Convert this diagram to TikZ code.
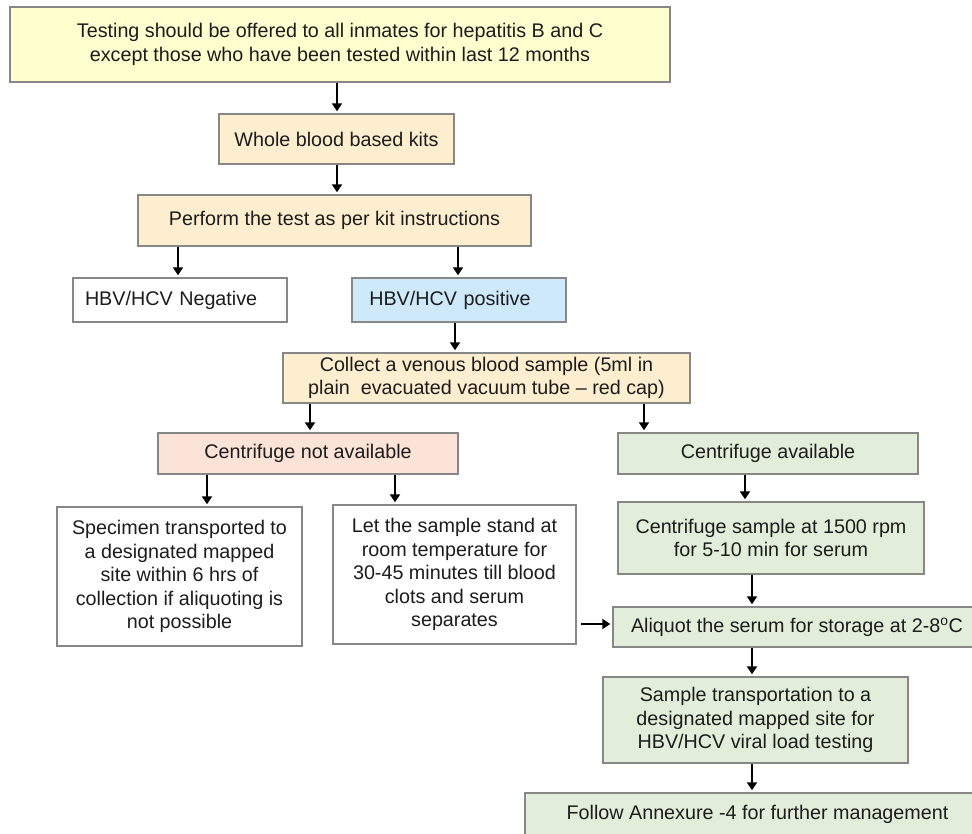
\documentclass[tikz,border=0pt]{standalone}
\usepackage{fontspec}
\setmainfont{Liberation Sans}
\usetikzlibrary{arrows.meta}

\definecolor{edgegray}{RGB}{135,135,135}
\definecolor{inkdark}{RGB}{28,28,28}
\definecolor{fillyellow}{RGB}{255,254,206}
\definecolor{fillpeach}{RGB}{253,238,207}
\definecolor{fillblue}{RGB}{206,233,250}
\definecolor{fillsalmon}{RGB}{251,227,215}
\definecolor{fillgreen}{RGB}{226,238,218}

\newcommand{\pxu}{0.75pt}

\tikzset{
  box/.style={draw=edgegray, line width=1.1pt, fill=#1, text=inkdark,
    rectangle, align=center, inner sep=0pt,
    font=\fontsize{14.8pt}{17.6pt}\selectfont},
  box/.default=white,
  arr/.style={line width=1.9pt, draw=black,
    -{Triangle[length=6pt,width=7.5pt]}, shorten >=1.5pt},
}

\begin{document}
\begin{tikzpicture}[x=0.75pt, y=-0.75pt]
  \clip (0,0) rectangle (972,834);
  \fill[white] (0,0) rectangle (972,834);

  % boxes
  \node[box=fillyellow, minimum width={660*\pxu}, minimum height={75*\pxu}]
    (b1) at (340,44.5) {Testing should be offered to all inmates for hepatitis B and C\\
      except those who have been tested within last 12 months};
  \node[box=fillpeach, minimum width={235*\pxu}, minimum height={50*\pxu}]
    (b2) at (336.5,139) {Whole blood based kits};
  \node[box=fillpeach, minimum width={393*\pxu}, minimum height={51*\pxu}]
    (b3) at (334.5,220.5) {Perform the test as per kit instructions};
  \node[box, minimum width={214*\pxu}, minimum height={44*\pxu},
    text width={190*\pxu}, align=left]
    (b4) at (180,300) {HBV/HCV Negative};
  \node[box=fillblue, minimum width={214*\pxu}, minimum height={44*\pxu},
    text width={182*\pxu}, align=left]
    (b5) at (459,300) {\hspace*{1pt}HBV/HCV positive};
  \node[box=fillpeach, minimum width={407*\pxu}, minimum height={50*\pxu}]
    (b6) at (486.5,378) {Collect a venous blood sample (5ml in\\
      plain\ \ evacuated vacuum tube – red cap)};
  \node[box=fillsalmon, minimum width={300*\pxu}, minimum height={41*\pxu}]
    (b7) at (308,453.5) {Centrifuge not available};
  \node[box=fillgreen, minimum width={300*\pxu}, minimum height={41*\pxu}]
    (b8) at (768,453.5) {Centrifuge available};
  \node[box, minimum width={245*\pxu}, minimum height={139*\pxu}]
    (b9) at (179.5,576.5) {Specimen transported to\\a designated mapped\\
      site within 6 hrs of\\collection if aliquoting is\\not possible};
  \node[box, minimum width={243*\pxu}, minimum height={139*\pxu}]
    (b10) at (454.5,574.5) {Let the sample stand at\\room temperature for\\
      30-45 minutes till blood\\clots and serum\\separates};
  \node[box=fillgreen, minimum width={306*\pxu}, minimum height={72*\pxu}]
    (b11) at (771,538) {Centrifuge sample at 1500 rpm\\for 5-10 min for serum};
  \node[box=fillgreen, minimum width={368*\pxu}, minimum height={40*\pxu}]
    (b12) at (797,627) {Aliquot the serum for storage at 2-8\textsuperscript{o}C};
  \node[box=fillgreen, minimum width={305*\pxu}, minimum height={86*\pxu}]
    (b13) at (755.5,720) {Sample transportation to a\\designated mapped site for\\
      HBV/HCV viral load testing};
  \node[box=fillgreen, minimum width={465*\pxu}, minimum height={42*\pxu}]
    (b14) at (757.5,814) {Follow Annexure -4 for further management};

  % connector columns and rows
  \coordinate (xa) at (337,0);
  \coordinate (xb) at (178,0);
  \coordinate (xc) at (458,0);
  \coordinate (xd) at (455,0);
  \coordinate (xe) at (310,0);
  \coordinate (xf) at (644,0);
  \coordinate (xg) at (207,0);
  \coordinate (xh) at (395,0);
  \coordinate (xi) at (745,0);
  \coordinate (xj) at (752,0);
  \coordinate (ya) at (0,624);

  % connectors
  \draw[arr] (xa |- b1.south) -- (xa |- b2.north);
  \draw[arr] (xa |- b2.south) -- (xa |- b3.north);
  \draw[arr] (xb |- b3.south) -- (xb |- b4.north);
  \draw[arr] (xc |- b3.south) -- (xc |- b5.north);
  \draw[arr] (xd |- b5.south) -- (xd |- b6.north);
  \draw[arr] (xe |- b6.south) -- (xe |- b7.north);
  \draw[arr] (xf |- b6.south) -- (xf |- b8.north);
  \draw[arr] (xg |- b7.south) -- (xg |- b9.north);
  \draw[arr] (xh |- b7.south) -- (xh |- b10.north);
  \draw[arr] (xi |- b8.south) -- (xi |- b11.north);
  \draw[arr] (xj |- b11.south) -- (xj |- b12.north);
  \draw[arr, shorten <=3pt] (b10.east |- ya) -- (b12.west |- ya);
  \draw[arr] (xj |- b12.south) -- (xj |- b13.north);
  \draw[arr] (xj |- b13.south) -- (xj |- b14.north);
\end{tikzpicture}
\end{document}
